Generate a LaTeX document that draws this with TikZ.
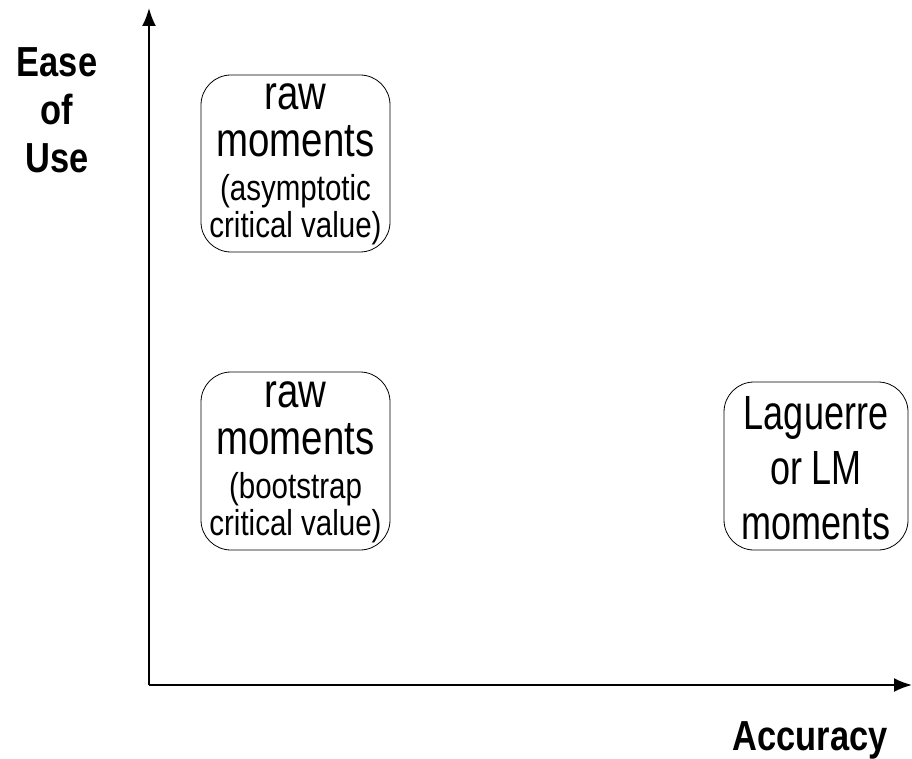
\documentclass[tikz,border=0pt]{standalone}
\usepackage{fontspec}
\setmainfont{Liberation Sans}[FakeStretch=0.82]
\newfontfamily\bigfamily{Liberation Sans}[FakeStretch=0.8]
\newfontfamily\narrowerfont{Liberation Sans}[FakeStretch=0.75]
\usetikzlibrary{arrows.meta}
\begin{document}
\begin{tikzpicture}[x=1pt,y=-1pt,
  axis/.style={line width=2pt,-{Latex[length=18pt,width=14pt]}},
  methodbox/.style={draw,line width=0.8pt,rounded corners=30pt,inner sep=0pt},
  bigline/.style={anchor=base,inner sep=0pt,font=\bigfamily\fontsize{48}{50}\selectfont},
  smallline/.style={anchor=base,inner sep=0pt,font=\fontsize{36}{38}\selectfont},
  lagline/.style={anchor=base,inner sep=0pt,font=\narrowerfont\fontsize{48}{52}\selectfont},
  axlabel/.style={font=\fontsize{42}{48}\selectfont\bfseries,align=center,inner sep=0pt}]
\useasboundingbox (0,0) rectangle (912,759);
\coordinate (origin) at (149,685);
\coordinate (ytop) at (149,8);
\coordinate (xend) at (912,685);
\draw[axis] (origin) -- (ytop);
\draw[axis] (origin) -- (xend);
% box 1
\node[methodbox,minimum width=189pt,minimum height=177pt] (b1) at (295.5,163.5) {};
\node[bigline] (b1a) at (295.5,110) {raw};
\node[bigline] (b1b) at (295.5,157) {moments};
\node[smallline] (b1c) at (295.5,201) {(asymptotic};
\node[smallline] (b1d) at (295.5,238) {critical value)};
% box 2
\node[methodbox,minimum width=189pt,minimum height=178pt] (b2) at (295.5,461) {};
\node[bigline] (b2a) at (295.5,407) {raw};
\node[bigline] (b2b) at (295.5,454) {moments};
\node[smallline] (b2c) at (295.5,498) {(bootstrap};
\node[smallline] (b2d) at (295.5,535) {critical value)};
% box 3
\node[methodbox,minimum width=184pt,minimum height=168pt] (b3) at (816,466) {};
\node[lagline] (b3a) at (816,429) {Laguerre};
\node[lagline] (b3b) at (816,484) {or LM};
\node[lagline] (b3c) at (816,539) {moments};
% axis labels
\node[axlabel] (ylab) at (57,110) {Ease\\ of\\ Use};
\node[axlabel] (xlab) at (810,740) {Accuracy};
\end{tikzpicture}
\end{document}
